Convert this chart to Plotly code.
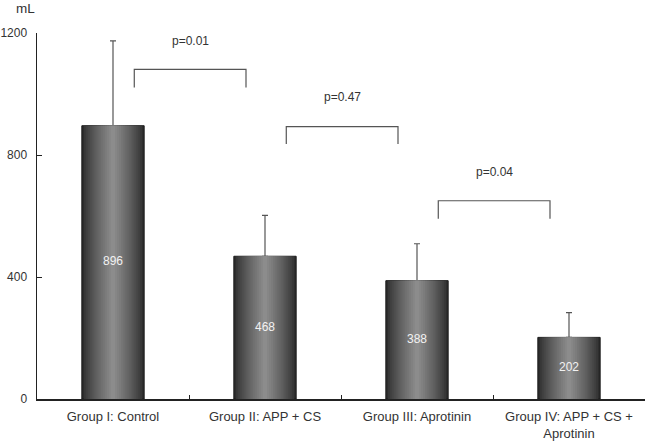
import plotly.graph_objects as go

categories = ["Group I: Control", "Group II: APP + CS", "Group III: Aprotinin",
              "Group IV: APP + CS +<br>Aprotinin"]
values = [896, 468, 388, 202]
errors = [278, 134, 121, 81]
value_labels = ["896", "468", "388", "202"]

y_ticks = [0, 400, 800, 1200]

# p-value comparisons: (left category index, right category index, label)
p_labels = ["p=0.01", "p=0.47", "p=0.04"]
p_left = [0, 1, 2]
p_right = [1, 2, 3]
bracket_top = [1081, 893, 650]
bracket_bottom = [1021, 836, 591]
p_label_y = [1174, 990, 745]

FONT = "Liberation Sans, Arial, sans-serif"

W, H = 647, 442
ML, MR, MT, MB = 37, 2, 33, 43
plot_w = W - ML - MR
plot_h = H - MT - MB

fig = go.Figure()

# gradient-look bars: layered overlay bars from dark (wide) to light (narrow)
base_w = 0.41
n_layers = 16
dark, light = 0x2c, 0x8c
for i in range(n_layers):
    t = i / (n_layers - 1)
    frac = 1.0 - 0.93 * t
    c = int(dark + (light - dark) * (t ** 0.8))
    col = f"#{c:02x}{c:02x}{c:02x}"
    kw = {}
    if i == 0:
        kw["error_y"] = dict(type="data", symmetric=False, array=errors,
                             arrayminus=[0] * len(errors), color="#555555",
                             thickness=1.2, width=3)
        kw["marker"] = dict(color=col, line=dict(color="#1a1a1a", width=1))
    else:
        kw["marker"] = dict(color=col, line=dict(width=0))
    fig.add_trace(go.Bar(x=categories, y=values, width=base_w * frac,
                         showlegend=False, hoverinfo="skip", **kw))

# value labels in the middle of bars
fig.add_trace(go.Scatter(x=categories, y=[v / 2 for v in values], mode="text",
                         text=value_labels,
                         textfont=dict(color="#f2f2f2", size=12, family=FONT),
                         showlegend=False, hoverinfo="skip"))

# brackets
shapes = []
annotations = []
for l, r, top, bot, lab, ly in zip(p_left, p_right, bracket_top, bracket_bottom,
                                   p_labels, p_label_y):
    x0 = l + 0.14
    x1 = r - 0.125
    shapes.append(dict(type="path", xref="x", yref="y",
                       path=f"M {x0} {bot} L {x0} {top} L {x1} {top} L {x1} {bot}",
                       line=dict(color="#555", width=1.2)))
    annotations.append(dict(x=(x0 + x1) / 2, y=ly, xref="x", yref="y", text=lab,
                            showarrow=False,
                            font=dict(size=12, color="#333", family=FONT)))

# "mL" unit label (screen pixel position -> paper fraction)
ml_x_px, ml_y_px = 25.5, 8
annotations.append(dict(x=(ml_x_px - ML) / plot_w, y=(H - MB - ml_y_px) / plot_h,
                        xref="paper", yref="paper", text="mL",
                        xanchor="center", yanchor="middle", showarrow=False,
                        font=dict(size=13.5, color="#333", family=FONT)))

fig.update_layout(
    width=W, height=H,
    margin=dict(l=ML, r=MR, t=MT, b=MB, autoexpand=False),
    paper_bgcolor="white", plot_bgcolor="white",
    barmode="overlay",
    font=dict(family=FONT, size=12, color="#333"),
    shapes=shapes,
    annotations=annotations,
    xaxis=dict(type="category", range=[-0.5, 3.5], showline=True,
               linecolor="#222", linewidth=1.5, ticks="inside", ticklen=4,
               tickcolor="#222", tickson="boundaries", showgrid=False,
               tickfont=dict(size=13, color="#333", family=FONT),
               ticklabelstandoff=5, automargin=False),
    yaxis=dict(range=[0, 1200], tickvals=y_ticks, showline=True,
               linecolor="#222", linewidth=1.5, ticks="inside", ticklen=5,
               tickcolor="#222", showgrid=False, zeroline=False,
               tickfont=dict(size=12, color="#333", family=FONT),
               ticklabelstandoff=6, automargin=False),
)

fig.write_html(
    "out.html",
    config={"displayModeBar": False, "staticPlot": True},
    post_script="document.body.style.margin='0';"
                "document.documentElement.style.overflow='hidden';",
)
